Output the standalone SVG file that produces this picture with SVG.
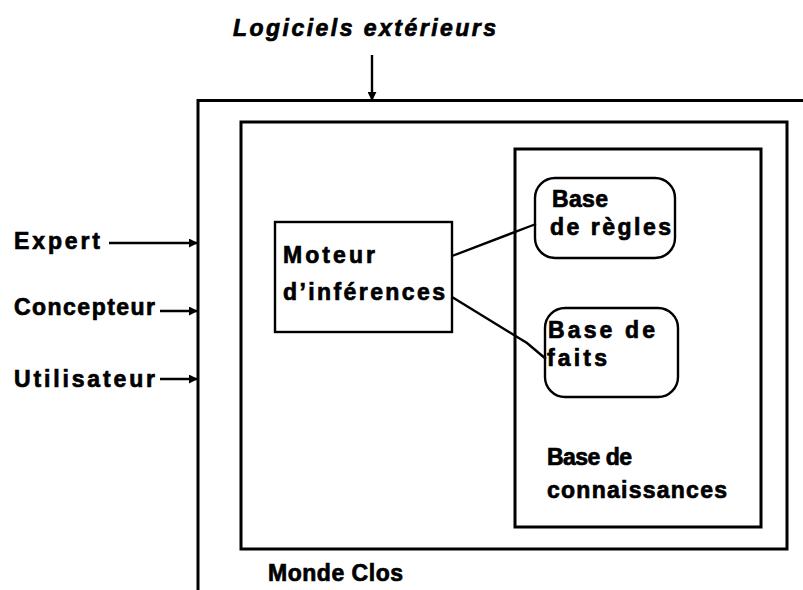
<svg xmlns="http://www.w3.org/2000/svg" width="803" height="590" viewBox="0 0 803 590">
  <defs>
    <style>
      .box { fill: none; stroke: #000; stroke-width: 3; }
      .thin { fill: #fff; stroke: #000; stroke-width: 2.4; }
      .wire { fill: none; stroke: #000; stroke-width: 2.4; }
      .lbl { font-family: "Liberation Sans", Arial, sans-serif; font-weight: bold; font-size: 23px; fill: #000; stroke: #000; stroke-width: 0.7; }
    </style>
    <marker id="arrow" viewBox="0 0 10 10" refX="9" refY="5" markerWidth="9" markerHeight="9" markerUnits="userSpaceOnUse" orient="auto">
      <path d="M0,0 L10,5 L0,10 Z" fill="#000"/>
    </marker>
  </defs>

  <rect width="803" height="590" fill="#fff"/>

  <!-- outer system frame (open to the right and bottom) -->
  <g id="systeme">
    <path class="box" d="M198,592 V100.5 H805"/>
  </g>

  <!-- closed world -->
  <g id="monde-clos">
    <rect class="box" x="241" y="122" width="546" height="427"/>
    <text class="lbl" x="268" y="581" textLength="135" lengthAdjust="spacing">Monde Clos</text>
  </g>

  <!-- knowledge base -->
  <g id="base-connaissances">
    <rect class="box" x="515" y="149" width="246" height="378"/>
    <text class="lbl" x="547" y="465" textLength="85" lengthAdjust="spacing">Base de</text>
    <text class="lbl" x="547" y="498" textLength="180" lengthAdjust="spacing">connaissances</text>
  </g>

  <g id="moteur">
    <rect class="thin" x="275" y="222" width="177" height="110"/>
    <text class="lbl" x="283" y="263" textLength="92" lengthAdjust="spacing">Moteur</text>
    <text class="lbl" x="283" y="300" textLength="162" lengthAdjust="spacing">d’inférences</text>
  </g>

  <g id="base-regles">
    <rect class="thin" x="535" y="178" width="140" height="80" rx="20" ry="20"/>
    <text class="lbl" x="552" y="207" textLength="56" lengthAdjust="spacing">Base</text>
    <text class="lbl" x="550" y="235" textLength="121" lengthAdjust="spacing">de règles</text>
  </g>

  <g id="base-faits">
    <rect class="thin" x="545" y="308" width="133" height="89" rx="20" ry="20"/>
    <text class="lbl" x="548" y="338" textLength="107" lengthAdjust="spacing">Base de</text>
    <text class="lbl" x="547" y="366" textLength="60" lengthAdjust="spacing">faits</text>
  </g>

  <!-- external actors -->
  <g id="logiciels">
    <text class="lbl" x="233" y="36" textLength="263" lengthAdjust="spacing" font-style="italic">Logiciels extérieurs</text>
  </g>
  <g id="expert">
    <text class="lbl" x="14" y="249" textLength="86" lengthAdjust="spacing">Expert</text>
  </g>
  <g id="concepteur">
    <text class="lbl" x="14" y="315" textLength="141" lengthAdjust="spacing">Concepteur</text>
  </g>
  <g id="utilisateur">
    <text class="lbl" x="14" y="387" textLength="141" lengthAdjust="spacing">Utilisateur</text>
  </g>

  <g id="connecteurs">
    <line class="wire" x1="372" y1="55" x2="372" y2="100" marker-end="url(#arrow)"/>
    <line class="wire" x1="109" y1="243" x2="197" y2="243" marker-end="url(#arrow)"/>
    <line class="wire" x1="160" y1="311" x2="197" y2="311" marker-end="url(#arrow)"/>
    <line class="wire" x1="160" y1="379" x2="197" y2="379" marker-end="url(#arrow)"/>
    <polyline class="wire" points="452,256 528,227 536,224"/>
    <polyline class="wire" points="452,297 527,343 546,359"/>
  </g>
</svg>
